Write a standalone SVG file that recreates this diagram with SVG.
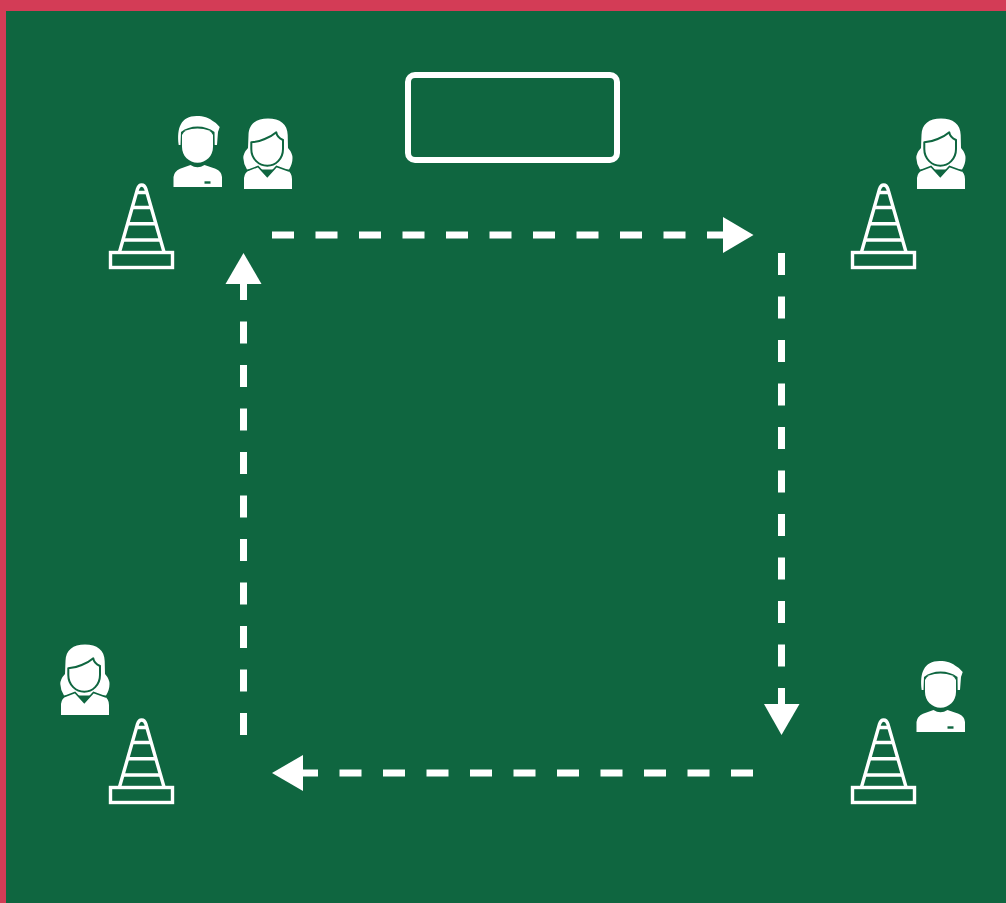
<svg xmlns="http://www.w3.org/2000/svg" width="1006" height="903" viewBox="0 0 1006 903">
<style>
.w{fill:#fff}
.k{fill:none;stroke:#fff;stroke-width:3.400}
.h{fill:#fff;stroke:#0f6640;stroke-width:2;stroke-linejoin:round}
.l{fill:none;stroke:#0f6640;stroke-width:1.600}
.d{fill:none;stroke:#fff;stroke-width:7;stroke-dasharray:22 21.5}
.g{fill:#0f6640}
</style>
<defs>
<g id="cone">
<rect class="k" x="110.500" y="252.500" width="62" height="15"/>
<path class="k" d="M119.500 252L137.500 189Q138.800 185 141.700 185Q144.600 185 145.900 189L164 252"/>
<path class="k" d="M136.700 192.500H146.700M132.400 207.500H151M127.700 223.700H155.700M123 240H160.400"/>
</g>
<g id="man">
<path class="w" d="M178.700 145C176.500 128 181 116 196.500 116C204 116 209 118 212 120.500Q217 123 219.700 127L218 132L217 145L214.700 145L214.500 132Q207 126.500 197.500 126.500Q188 126.500 181 132L180.500 145Z"/>
<path class="w" d="M182 135Q184 128.500 197.500 128.500Q211 128.500 213 135L213 147C213 156 206 162.700 197.500 162.700C189 162.700 182 156 182 147Z"/>
<path class="w" d="M173.500 187V177Q174 171.500 180 168.700L190.500 165Q197.500 169.500 204.500 165L215.500 168.700Q221.800 171.500 222 177V187Z"/>
<rect class="g" x="204.500" y="181.300" width="6" height="2.400"/>
</g>
<g id="woman">
<path class="w" d="M268 118.500C256 118.500 248.700 124 248.500 135L248 148Q243.300 153 243.300 158Q243.500 164 247 169.500L289 169.500Q292.500 164 292.500 158Q292.500 153 288 148L287.700 135C287.500 124 280 118.500 268 118.500Z"/>
<path class="w" d="M244 189V178Q244.500 172.500 249.500 170L258 166.500L267.300 176.500L276.500 166.500L287.500 170.500Q291.800 172.500 292 179V189Z"/>
<path class="l" d="M247.500 170.500L258 166.500L267.300 176.500L276.500 166.500L289 171"/>
<path class="h" d="M251.300 142.300Q258 142 264.700 139Q271.500 136.500 276.300 132.300Q276.800 137 283 140L283 149C283 159 275.500 165.700 267.300 165.700C259 165.700 251.300 159 251.300 149Z"/>
</g>
</defs>
<rect width="1006" height="903" fill="#d33c56"/>
<rect x="6" y="11" width="1000" height="892" fill="#0f6640"/>
<g id="connectors">
<path class="d" d="M272 235H724"/>
<path class="w" d="M723 217L753.500 235L723 253Z"/>
<path class="d" d="M781.500 253V705"/>
<path class="w" d="M764 704H799.500L781.500 735Z"/>
<path class="d" d="M753 773H302"/>
<path class="w" d="M303 755V791L272 773Z"/>
<path class="d" d="M243.500 735V284"/>
<path class="w" d="M225.500 284H261.500L243.500 253Z"/>
</g>
<g id="goal"><rect x="408" y="75" width="209" height="85" rx="7" fill="none" stroke="#fff" stroke-width="6"/></g>
<g id="cone-tl"><use href="#cone"/></g>
<g id="cone-tr"><use href="#cone" x="742"/></g>
<g id="cone-bl"><use href="#cone" y="535"/></g>
<g id="cone-br"><use href="#cone" x="742" y="535"/></g>
<g id="man-tl"><use href="#man"/></g>
<g id="man-br"><use href="#man" x="743" y="545"/></g>
<g id="woman-tl"><use href="#woman"/></g>
<g id="woman-tr"><use href="#woman" x="673"/></g>
<g id="woman-bl"><use href="#woman" x="-183" y="526"/></g>
</svg>
